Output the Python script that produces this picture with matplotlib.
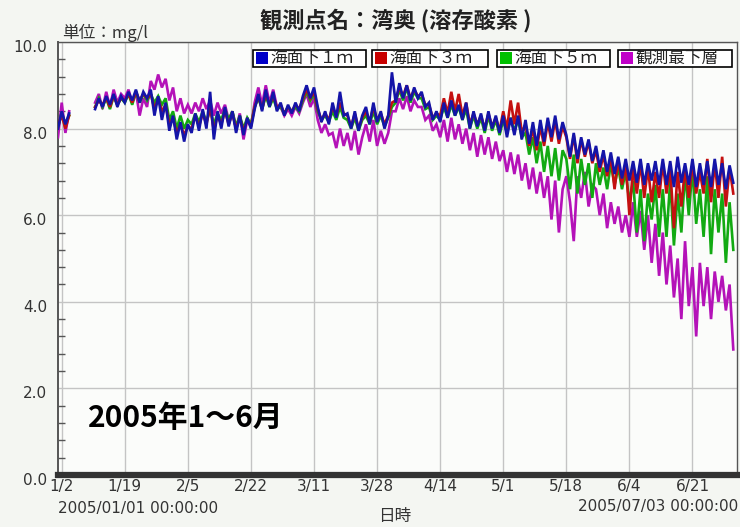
import numpy as np
import matplotlib.pyplot as plt
import matplotlib.transforms as mtransforms
from matplotlib.patches import Rectangle

plt.rcParams['font.family'] = ['DejaVu Sans', 'Noto Sans CJK JP']

nan = np.nan
W, H = 740, 527

# day index: 0 = 2005/01/01
days = np.arange(183)

# dissolved oxygen (mg/l), one value per day
do_1m = [8.0, 8.4, 8.1, 8.35,
         nan, nan, nan, nan, nan, nan,
         8.45, 8.7, 8.5, 8.75, 8.55, 8.8, 8.5, 8.75,
         8.6, 8.85, 8.65, 8.9, 8.6, 8.85, 8.7,
         8.9, 8.3, 8.75, 8.2, 8.6,
         7.95, 8.3, 7.75, 8.15, 7.7, 8.1,
         7.9, 8.35, 7.95, 8.45, 8.0, 8.85, 7.75, 8.4, 8.0,
         8.5, 8.05, 8.4,
         7.9, 8.3, 7.85, 8.25, 8.0,
         8.45, 8.8, 8.4, 8.9, 8.5, 8.85, 8.4,
         8.6, 8.3, 8.55, 8.35, 8.6, 8.4,
         8.75, 9.0, 8.7, 8.95,
         8.5, 8.15, 8.4, 8.1,
         8.6, 8.25, 8.85, 8.3,
         8.35, 8.0, 8.4, 7.95, 8.3,
         8.5, 8.1, 8.6, 8.15, 8.4,
         8.0, 8.3,
         9.3,
         8.6, 9.05, 8.7, 9.0, 8.65, 8.95, 8.7,
         8.85, 8.5, 8.6, 8.2, 8.4,
         8.15, 8.6, 8.25, 8.65, 8.3, 8.55, 8.2, 8.6,
         8.0, 8.4, 8.05, 8.35, 7.95, 8.4, 8.0, 8.3, 7.9,
         8.3, 7.8, 8.25, 7.85, 8.3, 7.75,
         8.2, 7.65, 8.15, 7.6, 8.2, 7.7,
         8.25, 7.8, 8.3, 7.75, 8.15,
         7.85, 7.35, 7.9, 7.3, 7.8, 7.4, 7.75, 7.25,
         7.6, 7.1, 7.5, 7.0, 7.45, 6.95, 7.35, 6.85, 7.3, 6.8,
         7.25, 6.75, 7.3, 6.7, 7.2, 6.8, 7.25, 6.7,
         7.3, 6.7, 7.25, 6.65, 7.35, 6.75, 7.2, 6.7, 7.3, 6.65, 7.2,
         6.7, 7.25, 6.65, 7.3, 6.7, 7.2, 6.6, 7.15, 6.75]

do_3m = [8.1, 8.3, 8.0, 8.3,
         nan, nan, nan, nan, nan, nan,
         8.5, 8.65, 8.55, 8.7, 8.5, 8.75, 8.55, 8.7,
         8.65, 8.8, 8.6, 8.85, 8.65, 8.8, 8.7,
         8.8, 8.45, 8.7, 8.4, 8.55,
         8.1, 8.25, 7.9, 8.1, 7.85, 8.05,
         8.0, 8.3, 8.05, 8.35, 8.1, 8.5, 7.95, 8.3, 8.1,
         8.4, 8.1, 8.35,
         8.0, 8.25, 7.95, 8.2, 8.05,
         8.5, 8.75, 8.45, 8.8, 8.55, 8.75, 8.5,
         8.55, 8.35, 8.5, 8.4, 8.55, 8.45,
         8.7, 8.9, 8.7, 8.85,
         8.45, 8.2, 8.35, 8.2,
         8.5, 8.3, 8.6, 8.35,
         8.3, 8.05, 8.35, 8.0, 8.25,
         8.4, 8.15, 8.5, 8.2, 8.35,
         8.1, 8.3,
         8.6,
         8.65, 8.95, 8.75, 9.0, 8.7, 8.9, 8.75,
         8.8, 8.55, 8.55, 8.25, 8.35,
         8.3, 8.7, 8.35, 8.85, 8.4, 8.8, 8.3, 8.6,
         8.1, 8.35, 8.1, 8.3, 8.0, 8.35, 8.05, 8.25, 7.95,
         8.4, 8.0, 8.65, 8.1, 8.6, 7.9,
         8.1, 7.6, 8.0, 7.5, 8.05, 7.6,
         8.15, 7.7, 8.2, 7.65, 8.05,
         7.8, 7.3, 7.85, 7.2, 7.75, 7.35, 7.7, 7.2,
         7.5, 7.0, 7.4, 6.9, 7.35, 6.6, 7.3, 6.7, 7.2, 6.0,
         7.1, 6.5, 7.2, 6.4, 7.1, 6.3, 7.0, 6.4,
         7.2, 6.5, 7.1, 5.7, 7.0, 6.2, 7.1, 6.4, 7.2, 6.5, 7.0,
         6.5, 7.3, 6.3, 7.2, 6.4, 7.35, 6.2, 7.1, 6.5]

do_5m = [8.05, 8.35, 8.1, 8.3,
         nan, nan, nan, nan, nan, nan,
         8.5, 8.7, 8.5, 8.7, 8.45, 8.75, 8.55, 8.7,
         8.6, 8.8, 8.55, 8.85, 8.6, 8.8, 8.65,
         8.8, 8.6, 8.75, 8.55, 8.7,
         8.2, 8.4, 8.0, 8.3, 8.0, 8.2,
         8.1, 8.35, 8.15, 8.4, 8.15, 8.45, 8.1, 8.35, 8.2,
         8.45, 8.2, 8.4,
         8.05, 8.3, 8.0, 8.25, 8.1,
         8.5, 8.7, 8.45, 8.75, 8.5, 8.7, 8.45,
         8.5, 8.35, 8.5, 8.4, 8.5, 8.4,
         8.65, 8.85, 8.65, 8.8,
         8.4, 8.2, 8.3, 8.15,
         8.4, 8.2, 8.5, 8.25,
         8.2, 8.0, 8.25, 7.95, 8.2,
         8.3, 8.1, 8.4, 8.1, 8.3,
         8.05, 8.25,
         8.5,
         8.6, 8.9, 8.65, 8.95, 8.6, 8.85, 8.7,
         8.7, 8.45, 8.5, 8.2, 8.3,
         8.2, 8.5, 8.25, 8.55, 8.3, 8.5, 8.2, 8.45,
         8.0, 8.3, 8.0, 8.25, 7.9, 8.3, 7.95, 8.2, 7.85,
         8.2, 7.9, 8.25, 7.95, 8.2, 7.8,
         7.9, 7.4, 7.8, 7.2, 7.7, 7.0,
         7.6, 6.9, 7.55, 6.8, 7.5,
         7.3, 6.6, 7.4, 6.5, 7.3, 6.7, 7.2, 6.4,
         7.2, 6.7, 7.1, 6.6, 7.2, 6.7, 7.1, 6.6, 7.0, 6.3,
         6.8, 5.6, 6.6, 5.4, 6.5, 5.9, 6.7, 5.5,
         6.6, 5.5, 6.8, 5.3, 6.5, 5.6, 7.0, 6.0, 7.1, 5.8, 6.6,
         5.5, 6.9, 5.1, 6.6, 5.6, 6.5, 4.9, 6.3, 5.2]

do_bottom = [7.8, 8.6, 7.9, 8.4,
             nan, nan, nan, nan, nan, nan,
             8.6, 8.8, 8.45, 8.85, 8.5, 8.9, 8.6, 8.8,
             8.7, 8.9, 8.6, 8.85, 8.3, 8.7, 8.5,
             9.1, 8.9, 9.25, 8.95, 9.15,
             8.65, 8.95, 8.4, 8.7, 8.35, 8.55,
             8.35, 8.6, 8.4, 8.7, 8.45, 8.65, 8.3, 8.6, 8.35,
             8.55, 8.2, 8.4,
             8.0, 8.35, 7.75, 8.2, 8.05,
             8.6, 8.95, 8.55, 9.0, 8.6, 8.9, 8.5,
             8.5, 8.3, 8.45, 8.3, 8.5, 8.35,
             8.6, 8.8, 8.5, 8.7,
             8.2, 7.9, 8.1, 7.85,
             7.9, 7.55, 8.0, 7.6,
             7.9, 7.5, 7.95, 7.4, 7.8,
             8.1, 7.7, 8.2, 7.6, 7.95,
             7.65, 7.9,
             8.4,
             8.4, 8.7, 8.45, 8.75, 8.4, 8.65, 8.5,
             8.5, 8.2, 8.3, 7.95, 8.1,
             7.8, 8.2, 7.7, 8.25, 7.75, 8.1, 7.65, 8.0,
             7.5, 7.9, 7.35, 7.85, 7.4, 7.8, 7.3, 7.7, 7.25,
             7.5, 7.0, 7.45, 6.95, 7.4, 6.8,
             7.2, 6.6, 7.1, 6.5, 7.0, 6.4,
             6.9, 5.9, 6.8, 5.6, 6.6,
             6.9, 6.3, 5.4, 6.9, 6.4, 7.0, 6.2, 6.7,
             6.6, 6.0, 6.5, 5.7, 6.3, 5.8, 6.2, 5.6, 6.0, 5.5,
             6.3, 5.5, 6.1, 5.2, 6.0, 4.9, 5.8, 4.6,
             5.6, 4.4, 5.3, 4.1, 5.0, 3.6, 5.4, 3.9, 4.8, 3.2, 4.9,
             3.9, 4.8, 3.6, 4.7, 4.0, 4.6, 3.8, 4.4, 2.9]

series_names = ['海面下１ｍ', '海面下３ｍ', '海面下５ｍ', '観測最下層']
series_data = [do_1m, do_3m, do_5m, do_bottom]
line_colors = ['#1414a8', '#c41010', '#12aa12', '#b412b8']
key_colors = ['#0000c8', '#c80000', '#00c000', '#c000c8']

tick_days = [1, 18, 35, 52, 69, 86, 103, 120, 137, 154, 171]
tick_labels = ['1/2', '1/19', '2/5', '2/22', '3/11', '3/28', '4/14',
               '5/1', '5/18', '6/4', '6/21']


def px(x, y):
    return x / W, 1 - y / H


fig = plt.figure(figsize=(W / 100, H / 100), dpi=100, facecolor='#f4f6f2')
l, b = px(58, 475)
r, t = px(737, 42)
ax = fig.add_axes([l, b, r - l, t - b], facecolor='#fbfcfa')

# bottom layer first so the 1m line sits on top
for i in [3, 2, 1, 0]:
    ax.plot(days, series_data[i], color=line_colors[i], lw=1.9,
            solid_joinstyle='miter', zorder=3 + (3 - i))

ax.set_xlim(0, 183)
ax.set_ylim(0, 10)
ax.set_xticks(tick_days)
ax.set_xticklabels(tick_labels)
ax.set_yticks(np.arange(0, 10.1, 2))
ax.set_yticklabels([f'{v:.1f}' for v in np.arange(0, 10.1, 2)])
ax.set_yticks(np.arange(0, 10.01, 0.4), minor=True)
ax.grid(True, which='major', color='#c4c4c4', lw=1.0, zorder=1)
ax.tick_params(axis='both', which='major', length=0, labelsize=11,
               labelcolor='#333333', pad=8)
ax.tick_params(axis='x', pad=3)
ax.tick_params(axis='y', which='minor', direction='in', length=5,
               width=1, color='#555555')
ax.tick_params(axis='x', which='minor', length=0)

shift = mtransforms.ScaledTranslation(0, -0.04, fig.dpi_scale_trans)
for lab in ax.get_yticklabels():
    lab.set_transform(lab.get_transform() + shift)

for side in ['top', 'right']:
    ax.spines[side].set_color('#555555')
    ax.spines[side].set_linewidth(1.0)
ax.spines['left'].set_color('#555555')
ax.spines['left'].set_linewidth(1.4)
ax.spines['bottom'].set_color('#333333')
ax.spines['bottom'].set_linewidth(4.5)

cjk = ['Noto Sans CJK JP', 'DejaVu Sans']
fig.text(*px(396, 20), '観測点名：湾奥 (溶存酸素 )', ha='center', va='center',
         fontsize=16, fontweight='bold', family=cjk, color='#222222')
fig.text(*px(62, 33), '単位：mg/l', ha='left', va='center', fontsize=12,
         family=cjk, color='#333333')
fig.text(*px(58, 508), '2005/01/01 00:00:00', ha='left', va='center',
         fontsize=11, color='#333333')
fig.text(*px(738, 506), '2005/07/03 00:00:00', ha='right', va='center',
         fontsize=11, color='#333333')
fig.text(*px(395, 517), '日時', ha='center', va='center', fontsize=12,
         family=cjk, color='#333333')
fig.text(*px(88, 418), '2005年1～6月', ha='left', va='center', fontsize=21.5,
         fontweight='bold', family=cjk, color='black')

# legend boxes along the top of the plot
box_x = [253, 372, 497, 618]
box_w = [113, 116, 113, 114]
for x0, w, name, kc in zip(box_x, box_w, series_names, key_colors):
    bx, by = px(x0, 67)
    fig.add_artist(Rectangle((bx, by), w / W, 17 / H, transform=fig.transFigure,
                             facecolor='white', edgecolor='black', lw=1.2,
                             zorder=10))
    sx, sy = px(x0 + 3, 64)
    fig.add_artist(Rectangle((sx, sy), 12 / W, 12 / H, transform=fig.transFigure,
                             facecolor=kc, edgecolor='none', zorder=11))
    fig.text(*px(x0 + 17, 58.5), name, ha='left', va='center', fontsize=12,
             family=cjk, color='#222222', zorder=12)

fig.savefig('out.png', dpi=100, facecolor=fig.get_facecolor())
